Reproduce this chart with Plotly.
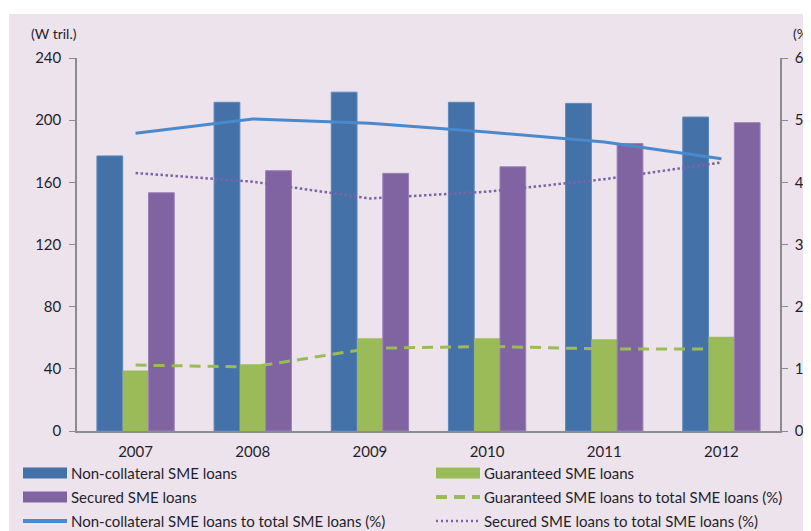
import plotly.graph_objects as go

years = ["2007", "2008", "2009", "2010", "2011", "2012"]
noncollateral = [177, 211.5, 218, 211.5, 210.8, 202]
guaranteed = [39, 43, 59.6, 59.6, 59, 60.7]
secured = [153.3, 167.5, 165.8, 170, 185, 198.4]
noncoll_pct = [47.9, 50.2, 49.5, 48.1, 46.5, 43.8]
guar_pct = [10.6, 10.3, 13.3, 13.6, 13.2, 13.2]
secured_pct = [41.5, 40.1, 37.4, 38.5, 40.5, 43.2]
left_ticks = [0, 40, 80, 120, 160, 200, 240]
right_ticks = [0, 10, 20, 30, 40, 50, 60]

# page shows the figure offset by the default body margin (8px)
OFF = 8
W, H = 811 - OFF, 531 - OFF
# plot area in reference pixels: x 77..780, y 58..431
ml, mr, mt, mb = 77 - OFF, 811 - 780, 58 - OFF, 531 - 431
pw, ph = W - ml - mr, H - mt - mb

FONT = "Lato"
TXT = "#1f1f2e"
BLUE, GREEN, PURPLE, LBLUE = "#4472A8", "#9BBB59", "#8064A2", "#4A89CC"


def px(xr):
    """reference x pixel -> paper coordinate"""
    return (xr - OFF - ml) / pw


def py(yr):
    """reference y pixel -> paper coordinate"""
    return (H - mb - (yr - OFF)) / ph


series = [
    dict(name="Non-collateral SME loans", kind="bar", color=BLUE),
    dict(name="Guaranteed SME loans", kind="bar", color=GREEN),
    dict(name="Secured SME loans", kind="bar", color=PURPLE),
    dict(name="Guaranteed SME loans to total SME loans (%)", kind="dash", color=GREEN),
    dict(name="Non-collateral SME loans to total SME loans (%)", kind="solid", color=LBLUE),
    dict(name="Secured SME loans to total SME loans (%)", kind="dot", color="#7E62A8"),
]

fig = go.Figure()
fig.add_trace(go.Bar(x=years, y=noncollateral, name=series[0]["name"],
                     marker=dict(color=BLUE, line=dict(color="#5b88bd", width=1))))
fig.add_trace(go.Bar(x=years, y=guaranteed, name=series[1]["name"],
                     marker=dict(color=GREEN, line=dict(width=0))))
fig.add_trace(go.Bar(x=years, y=secured, name=series[2]["name"],
                     marker=dict(color=PURPLE, line=dict(color="#9a80b8", width=1))))
fig.add_trace(go.Scatter(x=years, y=guar_pct, name=series[3]["name"], mode="lines", yaxis="y2",
                         line=dict(color=GREEN, width=3, dash="11px,7px")))
fig.add_trace(go.Scatter(x=years, y=noncoll_pct, name=series[4]["name"], mode="lines", yaxis="y2",
                         line=dict(color=LBLUE, width=3)))
fig.add_trace(go.Scatter(x=years, y=secured_pct, name=series[5]["name"], mode="lines", yaxis="y2",
                         line=dict(color="#7E62A8", width=2.5, dash="2.5px,2.5px")))

# background panel
fig.add_shape(type="rect", xref="paper", yref="paper", layer="below",
              x0=px(9), x1=px(811), y0=py(531), y1=py(14),
              fillcolor="#EDE3EC", line=dict(width=0))

# manual legend (two columns, three rows)
rows_y = [473, 497, 521]
cols_x = [23, 436]
for i, s in enumerate(series):
    r, c = i // 2, i % 2
    x0, yc = cols_x[c], rows_y[r]
    if s["kind"] == "bar":
        fig.add_shape(type="rect", xref="paper", yref="paper",
                      x0=px(x0), x1=px(x0 + 44), y0=py(yc + 5.5), y1=py(yc - 5.5),
                      fillcolor=s["color"], line=dict(width=0))
    else:
        dash = {"solid": "solid", "dash": "11px,7px", "dot": "2px,3px"}[s["kind"]]
        width = {"solid": 4, "dash": 4, "dot": 2.5}[s["kind"]]
        fig.add_shape(type="line", xref="paper", yref="paper",
                      x0=px(x0), x1=px(x0 + 44), y0=py(yc), y1=py(yc),
                      line=dict(color=s["color"], width=width, dash=dash))
    fig.add_annotation(text=s["name"], xref="paper", yref="paper", x=px(x0 + 46), y=py(yc),
                       xanchor="left", yanchor="middle", showarrow=False,
                       font=dict(size=15, color=TXT))

fig.update_layout(
    width=W, height=H,
    margin=dict(l=ml, r=mr, t=mt, b=mb, autoexpand=False),
    paper_bgcolor="white",
    plot_bgcolor="rgba(0,0,0,0)",
    barmode="group",
    bargap=0.34,
    bargroupgap=0,
    showlegend=False,
    font=dict(family=FONT, size=15, color=TXT),
    xaxis=dict(showline=True, linecolor="#8c8c8c", linewidth=1.5, ticks="", automargin=False,
               tickfont=dict(size=15, color=TXT), showgrid=False, zeroline=False,
               ticklabelstandoff=6),
    yaxis=dict(range=[0, 240], tickvals=left_ticks, showline=True, linecolor="#8c8c8c",
               linewidth=1.5, ticks="outside", ticklen=6, tickcolor="#8c8c8c", automargin=False,
               showgrid=False, zeroline=False, tickfont=dict(size=15, color=TXT),
               ticklabelstandoff=5),
    yaxis2=dict(range=[0, 60], tickvals=right_ticks, overlaying="y", side="right",
                showline=True, linecolor="#8c8c8c", linewidth=1.5, ticks="outside", automargin=False,
                ticklen=6, tickcolor="#8c8c8c", showgrid=False, zeroline=False,
                tickfont=dict(size=15, color=TXT), ticklabelstandoff=4),
)
fig.add_annotation(text="(W tril.)", xref="paper", yref="paper", x=px(29), y=py(34),
                   xanchor="left", yanchor="middle", showarrow=False, font=dict(size=14, color=TXT))
fig.add_annotation(text="(%)", xref="paper", yref="paper", x=px(791), y=py(34),
                   xanchor="left", yanchor="middle", showarrow=False, font=dict(size=14, color=TXT))

fig.write_html("out.html")
